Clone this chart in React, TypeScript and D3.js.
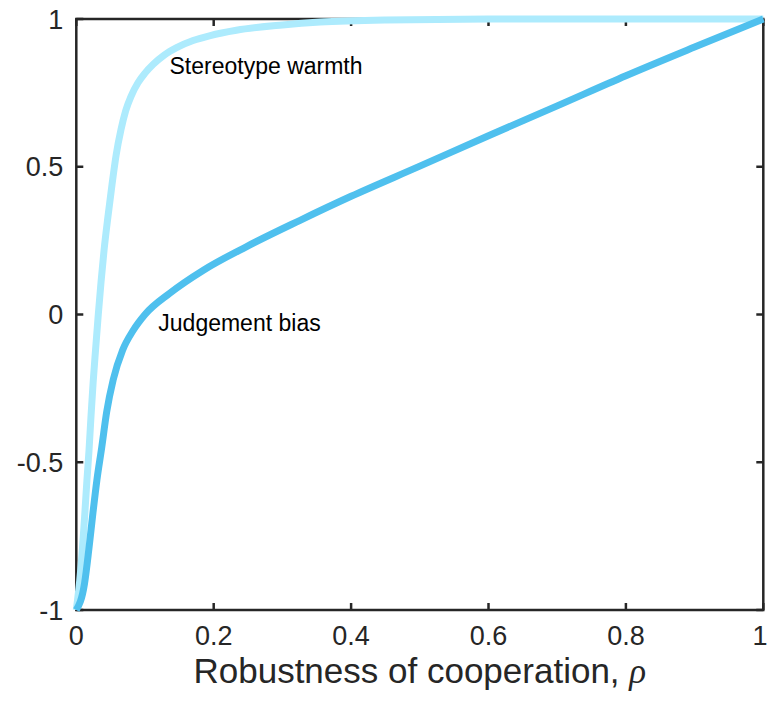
import * as d3 from 'd3';

// values
const warmthRho = [0, 0.005, 0.009, 0.0125, 0.0155, 0.0185, 0.0215, 0.0245, 0.028, 0.032, 0.036, 0.0405, 0.046, 0.052, 0.058, 0.065, 0.072, 0.08, 0.09, 0.1, 0.112, 0.128, 0.146, 0.17, 0.195, 0.233, 0.3, 0.355, 0.45, 0.6, 0.8, 1];
const warmthValues = [-1, -0.9, -0.79, -0.67, -0.56, -0.46, -0.34, -0.23, -0.12, 0.0, 0.11, 0.22, 0.33, 0.44, 0.54, 0.625, 0.69, 0.74, 0.785, 0.817, 0.847, 0.878, 0.903, 0.927, 0.944, 0.962, 0.98, 0.99, 0.997, 1, 1, 1];

const biasRho = [0, 0.012, 0.0185, 0.0243, 0.03, 0.037, 0.0442, 0.0538, 0.0675, 0.0825, 0.1, 0.136, 0.185, 0.248, 0.325, 0.4, 0.5, 0.6, 0.7, 0.8, 0.9, 1];
const biasValues = [-1, -0.91, -0.79, -0.67, -0.56, -0.45, -0.33, -0.22, -0.12, -0.055, 0.0, 0.072, 0.15, 0.23, 0.318, 0.4, 0.502, 0.605, 0.706, 0.808, 0.905, 1];

const xTicks = [0, 0.2, 0.4, 0.6, 0.8, 1];
const xTickLabels = ['0', '0.2', '0.4', '0.6', '0.8', '1'];
const yTicks = [-1, -0.5, 0, 0.5, 1];
const yTickLabels = ['-1', '-0.5', '0', '0.5', '1'];

const width = 768;
const height = 702;
const margin = { top: 19, right: 4.7, bottom: 92, left: 76.3 };
const font = '"Liberation Sans", Arial, Helvetica, sans-serif';
const axisColor = '#262626';
const tickLen = 7;

export default function App() {
  const x = d3.scaleLinear().domain([0, 1]).range([margin.left, width - margin.right]);
  const y = d3.scaleLinear().domain([-1, 1]).range([height - margin.bottom, margin.top]);

  const line = d3
    .line<[number, number]>()
    .x((d) => x(d[0]))
    .y((d) => y(d[1]))
    .curve(d3.curveMonotoneX);

  const warmth = warmthRho.map((r, i) => [r, warmthValues[i]] as [number, number]);
  const bias = biasRho.map((r, i) => [r, biasValues[i]] as [number, number]);

  const [x0, x1] = x.range();
  const [y0, y1] = y.range();

  return (
    <svg width={width} height={height} style={{ position: 'absolute', left: 0, top: 0 }}>
      <rect width={width} height={height} fill="white" />

      {/* box and inward ticks on all sides */}
      <g stroke={axisColor} strokeWidth={2.5} fill="none">
        <rect x={x0} y={y1} width={x1 - x0} height={y0 - y1} />
        {xTicks.map((t) => (
          <g key={'xt' + t}>
            <line x1={x(t)} x2={x(t)} y1={y0} y2={y0 - tickLen} />
            <line x1={x(t)} x2={x(t)} y1={y1} y2={y1 + tickLen} />
          </g>
        ))}
        {yTicks.map((t) => (
          <g key={'yt' + t}>
            <line x1={x0} x2={x0 + tickLen} y1={y(t)} y2={y(t)} />
            <line x1={x1} x2={x1 - tickLen} y1={y(t)} y2={y(t)} />
          </g>
        ))}
      </g>

      <g fontFamily={font} fontSize={27} fill={axisColor}>
        {xTicks.map((t, i) => {
          // keep the last label inside the page
          const last = i === xTicks.length - 1;
          return (
            <text
              key={'xl' + t}
              x={last ? width - 0.5 : x(t)}
              y={y0 + 35}
              textAnchor={last ? 'end' : 'middle'}
            >
              {xTickLabels[i]}
            </text>
          );
        })}
        {yTicks.map((t, i) => (
          <text key={'yl' + t} x={x0 - 13} y={y(t) + 9.5} textAnchor="end">
            {yTickLabels[i]}
          </text>
        ))}
      </g>

      <text x={(x0 + x1) / 2} y={683} textAnchor="middle" fontFamily={font} fontSize={35} fill={axisColor}>
        Robustness of cooperation,{' '}
        <tspan fontFamily='"Liberation Serif", "Times New Roman", serif' fontStyle="italic">
          ρ
        </tspan>
      </text>

      {/* curves */}
      <path d={line(warmth) ?? ''} fill="none" stroke="#ADEBFD" strokeWidth={7} strokeLinejoin="round" />
      <path d={line(bias) ?? ''} fill="none" stroke="#4FC0EE" strokeWidth={7} strokeLinejoin="round" />

      <g fontFamily={font} fontSize={23} fill="#000">
        <text x={169.5} y={73.5}>Stereotype warmth</text>
        <text x={158.3} y={330.5}>Judgement bias</text>
      </g>
    </svg>
  );
}
